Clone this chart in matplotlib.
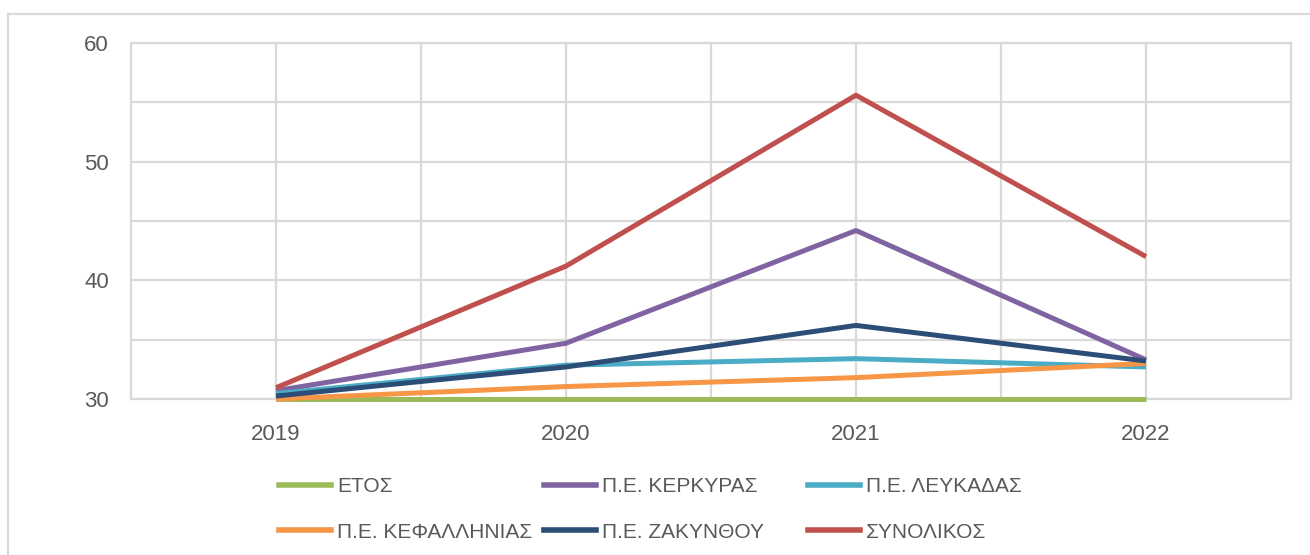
import matplotlib.pyplot as plt
from matplotlib.lines import Line2D
from matplotlib.ticker import MultipleLocator, FixedLocator

# =========================
# data
# =========================
years = ["2019", "2020", "2021", "2022"]

etos = [30.0, 30.0, 30.0, 30.0]
kerkyras = [30.7, 34.7, 44.2, 33.3]
lefkadas = [30.45, 32.85, 33.4, 32.7]
kefallinias = [30.0, 31.05, 31.8, 33.0]
zakynthou = [30.25, 32.7, 36.2, 33.2]
synolikos = [30.95, 41.2, 55.6, 42.0]

labels = ["ΕΤΟΣ", "Π.Ε. ΚΕΡΚΥΡΑΣ", "Π.Ε. ΛΕΥΚΑΔΑΣ",
          "Π.Ε. ΚΕΦΑΛΛΗΝΙΑΣ", "Π.Ε. ΖΑΚΥΝΘΟΥ", "ΣΥΝΟΛΙΚΟΣ"]
series = [etos, kerkyras, lefkadas, kefallinias, zakynthou, synolikos]
colors = ["#9bbb59", "#8064a2", "#4bacc6", "#f79646", "#2c4d75", "#c0504d"]

# =========================
# plot
# =========================
plt.rcParams["font.family"] = ["Liberation Sans", "DejaVu Sans"]
txt = "#595959"
grid = "#d9d9d9"

fig = plt.figure(figsize=(13.1, 5.55), dpi=100)
ax = fig.add_axes([131 / 1310, 1 - 399 / 555, 1160 / 1310, 356 / 555])

x = list(range(len(years)))
# draw order: total on top like the reference
order = [0, 3, 2, 4, 1, 5]
for i in order:
    ax.plot(x, series[i], color=colors[i], linewidth=3.6,
            solid_capstyle="butt", zorder=3 + i, clip_on=False)

ax.set_xlim(-0.5, 3.5)
ax.set_ylim(30, 60)
ax.xaxis.set_major_locator(FixedLocator(x))
ax.set_xticklabels(years)
ax.xaxis.set_minor_locator(FixedLocator([0.5, 1.5, 2.5]))
ax.yaxis.set_major_locator(MultipleLocator(10))
ax.yaxis.set_minor_locator(FixedLocator([35, 45, 55]))
ax.grid(True, which="both", color=grid, linewidth=1.6, zorder=0)
ax.set_axisbelow(True)
ax.tick_params(which="both", length=0, labelsize=16, colors=txt)
ax.tick_params(axis="y", pad=16)
ax.tick_params(axis="x", pad=18)
for s in ax.spines.values():
    s.set_color(grid)
    s.set_linewidth(1.6)

# outer chart border
fig.add_artist(Line2D([8 / 1310, 8 / 1310], [0, 1 - 14 / 555],
                      color=grid, linewidth=1.6))
fig.add_artist(Line2D([8 / 1310, 1], [1 - 14 / 555, 1 - 14 / 555],
                      color=grid, linewidth=1.6))

# legend: three columns of two entries
col_x = [279, 544, 808]
for c in range(3):
    hs = [Line2D([], [], color=colors[c], linewidth=4),
          Line2D([], [], color=colors[c + 3], linewidth=4)]
    fig.legend(hs, [labels[c], labels[c + 3]], loc="upper left",
               bbox_to_anchor=(col_x[c] / 1310, 1 - 477 / 555),
               frameon=False, fontsize=15, labelcolor=txt,
               handlelength=2.5, handletextpad=0.3, labelspacing=1.28,
               borderpad=0, borderaxespad=0)

fig.savefig("out.png", dpi=100)
